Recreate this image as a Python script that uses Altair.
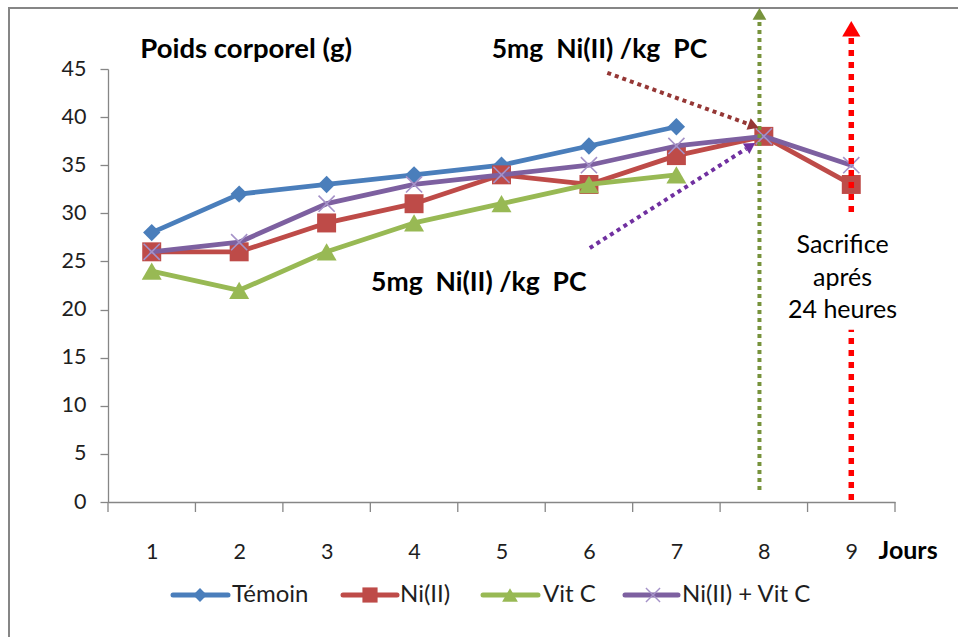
import math

import altair as alt
import pandas as pd

# --- data -------------------------------------------------------------
days = [1, 2, 3, 4, 5, 6, 7, 8, 9]
temoin = [28, 32, 33, 34, 35, 37, 39]
ni = [26, 26, 29, 31, 34, 33, 36, 38, 33]
vit_c = [24, 22, 26, 29, 31, 33, 34]
ni_vit_c = [26, 27, 31, 33, 34, 35, 37, 38, 35]
series_names = ["Témoin", "Ni(II)", "Vit C", "Ni(II) + Vit C"]
series_values = [temoin, ni, vit_c, ni_vit_c]
y_ticks = [0, 5, 10, 15, 20, 25, 30, 35, 40, 45]

# --- layout -----------------------------------------------------------
W, H = 787, 433
PAD = {"left": 108, "top": 69, "right": 63, "bottom": 135}
FONT = "Lato"
AXIS_GREY = "#868686"
TEXT = "#1e1e1e"
X_MIN, X_MAX = 0.5, 9.5
Y_MIN, Y_MAX = 0, 45
SX = W / (X_MAX - X_MIN)   # pixels per day
SY = H / (Y_MAX - Y_MIN)   # pixels per gram

X_PATH = "M-1,-1L1,1M-1,1L1,-1"

style = {
    "Témoin": dict(color="#4A7EBB", shape="diamond", size=300, lsize=190, filled=True, mcolor="#4A7EBB"),
    "Ni(II)": dict(color="#BE4B48", shape="square", size=360, lsize=230, filled=True, mcolor="#BE4B48"),
    "Vit C": dict(color="#98B954", shape="triangle-up", size=400, lsize=250, filled=True, mcolor="#98B954"),
    "Ni(II) + Vit C": dict(color="#7D60A0", shape=X_PATH, size=260, lsize=200, filled=False, mcolor="#A592C8"),
}

x_scale = alt.Scale(domain=[X_MIN, X_MAX], nice=False, zero=False)
y_scale = alt.Scale(domain=[Y_MIN, Y_MAX], nice=False, zero=False)
x_axis = alt.Axis(values=days, format="d", ticks=False, grid=False, title=None,
                  domainColor=AXIS_GREY, domainWidth=1.3, labelFont=FONT,
                  labelFontSize=21.5, labelColor=TEXT, labelPadding=39)
y_axis = alt.Axis(values=y_ticks, format="d", grid=False, title=None, tickSize=8,
                  tickColor=AXIS_GREY, tickWidth=1.3, domainColor=AXIS_GREY, domainWidth=1.3,
                  labelFont=FONT, labelFontSize=21.5, labelColor=TEXT, labelPadding=14)


def X(field=None, datum=None):
    if field is not None:
        return alt.X(field, type="quantitative", scale=x_scale, axis=x_axis)
    return alt.X(datum=datum, type="quantitative", scale=x_scale, axis=x_axis)


def Y(field=None, datum=None):
    if field is not None:
        return alt.Y(field, type="quantitative", scale=y_scale, axis=y_axis)
    return alt.Y(datum=datum, type="quantitative", scale=y_scale, axis=y_axis)


def one_row():
    return alt.Chart(pd.DataFrame({"k": [0]}))


layers = []

# outer frame of the figure
layers.append(
    one_row().mark_rect(fillOpacity=0, stroke=AXIS_GREY, strokeWidth=2).encode(
        x=alt.value(-PAD["left"] + 9), x2=alt.value(W + 200),
        y=alt.value(-PAD["top"] + 8), y2=alt.value(H + 300),
    )
)

# category boundary ticks on the x axis
bounds = [d - 0.5 for d in days] + [days[-1] + 0.5]
layers.append(
    alt.Chart(pd.DataFrame({"b": bounds})).mark_rule(color=AXIS_GREY, strokeWidth=1.3).encode(
        x=X("b"), y=alt.value(H), y2=alt.value(H + 10)
    )
)

# series: line then markers, in drawing order
for name, values in zip(series_names, series_values):
    st = style[name]
    df = pd.DataFrame({"day": days[: len(values)], "poids": values})
    base = alt.Chart(df)
    layers.append(
        base.mark_line(color=st["color"], strokeWidth=4.8, strokeJoin="round", strokeCap="round").encode(
            x=X("day"), y=Y("poids")
        )
    )
    if st["filled"]:
        pts = base.mark_point(shape=st["shape"], filled=True, color=st["mcolor"], opacity=1, size=st["size"])
    else:
        pts = base.mark_point(shape=st["shape"], filled=False, color=st["mcolor"], opacity=1,
                              strokeWidth=1.6, size=st["size"])
    layers.append(pts.encode(x=X("day"), y=Y("poids")))


def arrow(x0, y0, x1, y1, color, width, dash, head):
    dx = (x1 - x0) * SX
    dy = -(y1 - y0) * SY
    length = math.hypot(dx, dy)
    ux, uy = dx / length, dy / length
    h = math.sqrt(head) / 2 * math.sqrt(3) / 2
    bx, by = x1 - 2 * h * ux / SX, y1 + 2 * h * uy / SY
    cx, cy = x1 - h * ux / SX, y1 + h * uy / SY
    angle = math.degrees(math.atan2(dx, -dy)) % 360
    shaft = one_row().mark_rule(color=color, strokeWidth=width, strokeDash=dash, strokeCap="butt").encode(
        x=X(datum=x0), y=Y(datum=y0), x2=alt.X2(datum=bx), y2=alt.Y2(datum=by)
    )
    tip = one_row().mark_point(shape="triangle-up", filled=True, color=color, opacity=1,
                               size=head, angle=angle).encode(x=X(datum=cx), y=Y(datum=cy))
    return [shaft, tip]


# injection markers and sacrifice day
layers += arrow(7.95, 1.25, 7.95, 51.35, "#77933C", 4, [4, 4], 190)
layers += arrow(9.0, 0.2, 9.0, 50.0, "#FF0000", 5.5, [6, 6], 330)
layers += arrow(6.21, 44.6, 7.94, 38.9, "#953735", 4, [4, 4], 150)
layers += arrow(6.01, 26.4, 7.90, 37.3, "#7030A0", 4, [4, 4], 150)

NB = "\u00a0"
dose = f"5mg{NB} Ni(II) /kg{NB} PC"


def label(text, x, y, size, bold=True, **kw):
    return one_row().mark_text(text=text, font=FONT, fontSize=size, fontWeight="bold" if bold else "normal",
                               color="#000000", align="center", baseline="middle", **kw).encode(
        x=X(datum=x), y=Y(datum=y)
    )


layers.append(label("Poids corporel (g)", 2.08, 47.0, 27.5))
layers.append(label(dose, 6.12, 47.0, 26.5))
layers.append(label(dose, 4.74, 22.8, 26.5))

# white text box for the sacrifice note, masking the red line behind it
layers.append(
    one_row().mark_rect(fill="white", opacity=1).encode(
        x=X(datum=8.3), x2=alt.X2(datum=9.5), y=Y(datum=29.8), y2=alt.Y2(datum=17.9)
    )
)
layers.append(
    one_row().mark_text(text="Sacrifice\naprés\n24 heures", lineBreak="\n", lineHeight=32.5, font=FONT,
                        fontSize=25, color="#000000", align="center", baseline="top").encode(
        x=X(datum=8.9), y=Y(datum=27.95)
    )
)
layers.append(
    one_row().mark_text(text="Jours", font=FONT, fontSize=25, fontWeight="bold", color="#000000",
                        align="center", baseline="middle").encode(x=X(datum=9.65), y=alt.value(H + 49))
)

# legend row below the axis
legend_layout = {
    "Témoin": (65, 120, 92, 124),
    "Ni(II)": (235, 289, 262, 292),
    "Vit C": (375, 430, 402, 435),
    "Ni(II) + Vit C": (517, 570, 545, 574),
}
LEG_Y = H + 93
for name in series_names:
    st = style[name]
    l0, l1, m, t = legend_layout[name]
    layers.append(
        one_row().mark_rule(color=st["color"], strokeWidth=5, strokeCap="round").encode(
            x=alt.value(l0), x2=alt.value(l1), y=alt.value(LEG_Y)
        )
    )
    if st["filled"]:
        lm = one_row().mark_point(shape=st["shape"], filled=True, color=st["mcolor"], opacity=1, size=st["lsize"])
    else:
        lm = one_row().mark_point(shape=st["shape"], filled=False, color=st["mcolor"], opacity=1,
                                  strokeWidth=1.4, size=st["lsize"])
    layers.append(lm.encode(x=alt.value(m), y=alt.value(LEG_Y)))
    layers.append(
        one_row().mark_text(text=name, font=FONT, fontSize=24, color=TEXT, align="left",
                            baseline="middle").encode(x=alt.value(t), y=alt.value(LEG_Y))
    )

chart = alt.layer(*layers).properties(
    width=W, height=H, padding=PAD, autosize="none", background="white"
).configure_view(stroke=None)

chart.save("out.html", embed_options={"renderer": "svg", "actions": False})
